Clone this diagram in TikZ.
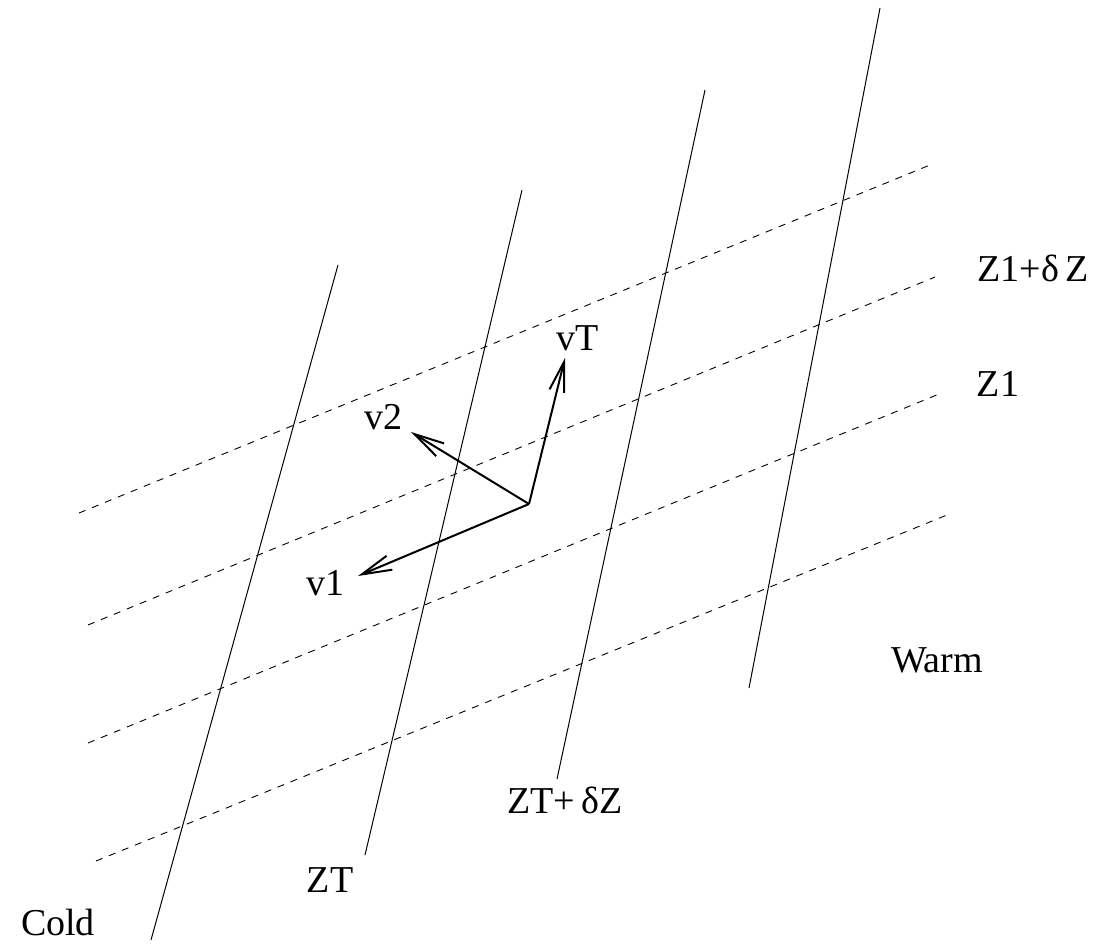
\documentclass[tikz,border=0pt]{standalone}
\usepackage{fontspec}
\setmainfont{Liberation Serif}
\usetikzlibrary{arrows.meta}

\begin{document}
\begin{tikzpicture}[x=1pt,y=-1pt,
  iso/.style={black,line width=1pt},
  level/.style={black,line width=0.9pt,dash pattern=on 7pt off 7pt},
  vec/.style={black,line width=2pt,-{Straight Barb[length=30pt,width=15pt,line width=2pt]}},
  lbl/.style={black,font=\fontsize{38}{44}\selectfont,inner sep=0pt}]
  \useasboundingbox (0,0) rectangle (1097,945);
  % isotherms
  \draw[iso] (151,940) -- (338,265);
  \draw[iso] (365,855) -- (522,190);
  \draw[iso] (557,779) -- (705,90);
  \draw[iso] (749,688) -- (880,8);
  % isopycnals
  \draw[level] (79,513) -- (930,165);
  \draw[level] (88,625) -- (935,277);
  \draw[level] (88,743) -- (939,394);
  \draw[level] (96,861) -- (947,515);
  % vectors
  \coordinate (o) at (529,504);
  \coordinate (tT) at (565,358);
  \coordinate (t2) at (411,432);
  \coordinate (t1) at (358,576);
  \draw[vec] (o) -- (tT);
  \draw[vec] (o) -- (t2);
  \draw[vec] (o) -- (t1);
  \node[lbl] (vT) at (578,338) {vT};
  \node[lbl] (v2) at (383,417) {v2};
  \node[lbl] (v1) at (325,583) {v1};
  % labels
  \node[lbl] (cold) at (58,922) {Cold};
  \node[lbl] (warm) at (937,660) {Warm};
  \node[lbl] (zt) at (330,880) {ZT};
  \node[lbl] (ztdz) at (565,800) {ZT+\,δZ};
  \node[lbl] (zone) at (998,384) {Z1};
  \node[lbl] (zonedz) at (1033,268) {Z1+δ\,Z};
\end{tikzpicture}
\end{document}
